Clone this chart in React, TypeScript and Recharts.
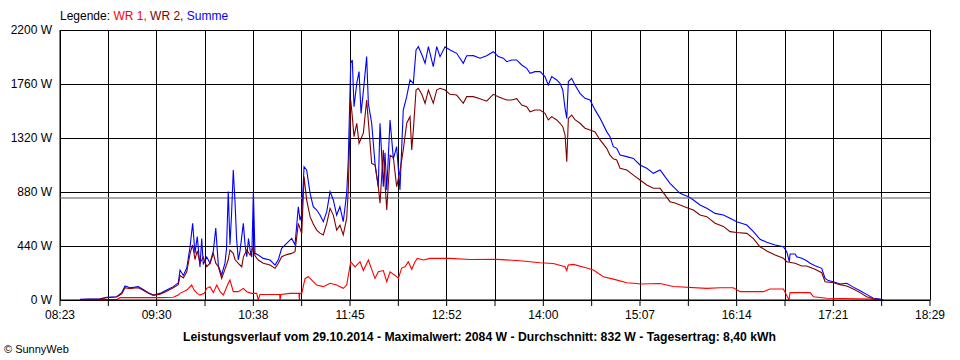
import { LineChart, Line, XAxis, YAxis, CartesianGrid, ReferenceLine } from "recharts";

// time = minutes after midnight, values in W

const tickLabels = ["08:23", "09:30", "10:38", "11:45", "12:52", "14:00", "15:07", "16:14", "17:21", "18:29"];
const wattTicks = [0, 440, 880, 1320, 1760, 2200];
const average = 832;

const sumTimes = [
  516.9, 530.9, 535.5, 542.5, 546.0, 548.3, 551.8, 555.2, 557.5, 561.0, 564.5, 568.0, 572.7, 577.3, 581.9,
  585.4, 586.6, 588.9, 591.3, 593.6, 595.4, 597.0, 598.6, 600.5, 601.7, 602.8, 605.2, 607.5, 609.8, 611.5,
  613.3, 615.6, 617.9, 619.0, 620.2, 621.4, 622.5, 623.7, 624.9, 626.0, 627.2, 628.4, 629.6, 630.7, 631.9,
  633.1, 634.3, 635.4, 636.6, 637.7, 638.8, 641.1, 644.6, 649.3, 652.8, 655.1, 657.4, 660.9, 664.4, 666.7,
  669.0, 670.2, 671.4, 673.0, 674.8, 677.2, 679.4, 681.8, 684.1, 686.4, 688.8, 691.1, 693.4, 695.7, 698.0,
  700.3, 702.7, 703.8, 705.5, 706.6, 707.8, 709.7, 711.3, 712.7, 714.3, 716.6, 717.8, 720.1, 722.4, 724.7,
  725.9, 728.2, 729.4, 730.6, 732.9, 735.2, 737.5, 739.8, 742.1, 744.5, 746.8, 749.1, 751.0, 752.6, 755.0,
  757.3, 759.6, 763.0, 765.4, 767.7, 771.2, 774.7, 779.3, 783.9, 786.3, 790.9, 795.6, 800.2, 804.8, 808.3,
  811.8, 814.2, 817.6, 821.1, 824.6, 828.1, 830.4, 833.9, 837.4, 840.8, 843.1, 845.5, 849.0, 851.3, 853.2,
  854.8, 856.0, 857.1, 859.4, 861.7, 865.2, 868.7, 872.2, 875.7, 879.2, 883.8, 886.1, 888.4, 890.8, 893.1,
  897.8, 902.4, 907.0, 911.7, 916.3, 921.0, 924.4, 927.9, 931.4, 934.9, 940.7, 944.2, 948.8, 953.5, 959.3,
  965.1, 969.7, 974.4, 981.4, 986.0, 990.6, 995.3, 1001.1, 1006.9, 1009.2, 1011.0, 1011.5, 1015.0, 1016.2, 1019.7,
  1023.1, 1025.5, 1028.9, 1033.6, 1035.9, 1038.2, 1041.7, 1046.3, 1051.0, 1055.6, 1060.3, 1064.9, 1069.5, 1074.2, 1076.5,
];
const sumWatts = [
  5, 10, 22, 27, 60, 114, 100, 105, 109, 86, 60, 41, 54, 81, 109,
  140, 244, 200, 260, 434, 625, 380, 516, 270, 500, 290, 350, 300, 400, 586,
  280, 204, 300, 420, 883, 450, 700, 1059, 800, 500, 326, 400, 516, 624, 450,
  353, 500, 407, 350, 883, 380, 367, 339, 326, 285, 330, 421, 462, 502, 450,
  760, 650, 700, 1086, 1060, 869, 760, 733, 692, 638, 720, 883, 815, 692, 760,
  638, 869, 1141, 1929, 1956, 1575, 1765, 1861, 1521, 1700, 1983, 1600, 1440, 1114, 923,
  1440, 923, 1200, 896, 1467, 1150, 1249, 896, 1548, 1657, 1793, 1765, 2037, 2064, 2000,
  1929, 2064, 1901, 2064, 1983, 2064, 2037, 2010, 1929, 1990, 1991, 1970, 1991, 2023, 1983,
  1970, 1942, 1956, 1956, 1915, 1888, 1847, 1861, 1861, 1820, 1752, 1820, 1793, 1765, 1711,
  1562, 1480, 1780, 1806, 1752, 1684, 1643, 1630, 1549, 1480, 1372, 1331, 1249, 1236, 1181,
  1168, 1154, 1100, 1073, 1032, 1060, 1005, 951, 910, 869, 842, 815, 774, 747, 706,
  693, 666, 638, 611, 557, 495, 470, 448, 434, 394, 312, 375, 375, 353, 340,
  320, 300, 280, 258, 176, 158, 149, 130, 136, 105, 76, 46, 14, 8, 0,
];

const wr2Times = [
  516.9, 530.9, 535.5, 542.5, 546.0, 548.3, 551.8, 555.2, 557.5, 561.0, 564.5, 568.0, 572.7, 577.3, 581.9,
  585.4, 586.6, 588.9, 591.3, 593.6, 595.4, 597.0, 598.6, 600.5, 602.8, 605.2, 607.5, 609.8, 611.5, 613.3,
  615.6, 617.9, 620.2, 621.4, 623.7, 624.9, 627.2, 629.6, 630.7, 633.1, 635.4, 637.7, 638.8, 641.1, 644.6,
  649.3, 652.8, 655.1, 657.4, 660.9, 664.4, 666.7, 669.0, 671.4, 673.0, 674.8, 677.2, 679.4, 681.8, 684.1,
  686.4, 688.8, 691.1, 693.4, 695.7, 698.0, 700.3, 702.7, 703.8, 705.5, 706.6, 707.8, 709.7, 711.3, 714.3,
  716.6, 720.1, 722.4, 724.7, 725.9, 728.2, 729.4, 730.6, 732.9, 735.2, 737.5, 739.8, 742.1, 744.5, 746.8,
  748.0, 749.1, 751.0, 752.6, 755.0, 757.3, 759.6, 763.0, 765.4, 767.7, 771.2, 774.7, 779.3, 783.9, 786.3,
  790.9, 795.6, 800.2, 804.8, 808.3, 811.8, 814.2, 817.6, 821.1, 824.6, 828.1, 830.4, 833.9, 837.4, 840.8,
  843.1, 845.5, 849.0, 851.3, 853.2, 854.8, 856.0, 857.1, 859.4, 861.7, 865.2, 868.7, 872.2, 875.7, 879.2,
  883.8, 886.1, 888.4, 890.8, 893.1, 897.8, 902.4, 907.0, 911.7, 916.3, 921.0, 924.4, 927.9, 931.4, 934.9,
  940.7, 944.2, 948.8, 953.5, 959.3, 965.1, 969.7, 974.4, 981.4, 986.0, 990.6, 995.3, 1001.1, 1006.9, 1009.2,
  1015.0, 1019.7, 1023.1, 1028.9, 1033.6, 1035.9, 1041.7, 1046.3, 1051.0, 1055.6, 1060.3, 1064.9, 1069.5, 1074.2,
];
const wr2Watts = [
  3, 8, 18, 24, 50, 100, 92, 98, 100, 80, 55, 38, 48, 72, 100,
  125, 200, 180, 230, 380, 448, 330, 400, 300, 350, 271, 300, 380, 300, 271,
  176, 250, 330, 407, 380, 330, 299, 271, 350, 407, 367, 434, 360, 326, 299,
  285, 258, 300, 353, 370, 380, 394, 624, 540, 1005, 815, 679, 620, 570, 545,
  530, 624, 747, 692, 570, 610, 530, 665, 896, 1630, 1494, 1331, 1440, 1277, 1360,
  1630, 1114, 1100, 923, 788, 1222, 950, 733, 1180, 1160, 923, 1050, 1222, 1440, 1494,
  1222, 1380, 1711, 1725, 1676, 1603, 1711, 1603, 1711, 1725, 1711, 1676, 1670, 1603, 1657,
  1657, 1640, 1620, 1676, 1657, 1640, 1630, 1630, 1640, 1589, 1575, 1534, 1548, 1548, 1521,
  1467, 1494, 1467, 1440, 1412, 1344, 1127, 1480, 1507, 1470, 1440, 1400, 1385, 1370, 1304,
  1236, 1180, 1150, 1141, 1073, 1059, 1018, 978, 937, 910, 910, 856, 801, 790, 774,
  747, 733, 693, 679, 625, 600, 557, 550, 543, 500, 434, 400, 367, 340, 312,
  300, 277, 277, 250, 222, 149, 140, 125, 114, 90, 60, 27, 10, 3,
];

const wr1Times = [
  516.9, 542.5, 544.8, 572.7, 581.9, 585.4, 586.6, 591.3, 594.7, 596.5, 598.6, 600.5, 603.5, 605.2, 607.5,
  609.8, 612.2, 614.5, 616.8, 620.2, 621.4, 623.7, 627.2, 630.7, 633.1, 636.5, 640.0, 641.1, 642.3, 656.0,
  656.3, 656.8, 663.3, 669.5, 669.7, 670.0, 671.4, 673.7, 676.0, 679.4, 681.8, 686.4, 691.1, 695.7, 700.3,
  702.7, 704.5, 705.5, 708.5, 712.0, 714.3, 717.8, 720.1, 722.4, 724.7, 728.2, 730.6, 732.9, 736.4, 738.7,
  741.0, 743.3, 745.6, 748.0, 750.3, 751.9, 756.1, 760.7, 767.7, 774.7, 788.6, 807.2, 823.4, 837.4, 846.6,
  854.8, 856.0, 857.0, 860.6, 869.9, 874.5, 881.5, 888.4, 897.8, 904.7, 907.0, 921.0, 930.2, 953.5, 962.8,
  972.0, 976.7, 992.9, 997.6, 1006.9, 1010.8, 1011.5, 1025.5, 1027.8, 1037.1, 1069.5, 1074.2,
];
const wr1Watts = [
  2, 3, 19, 19, 22, 40, 54, 81, 122, 80, 54, 40, 54, 95, 109,
  60, 122, 68, 41, 136, 163, 68, 68, 95, 68, 54, 54, 0, 45, 45,
  0, 45, 54, 54, 0, 54, 54, 176, 190, 150, 122, 109, 136, 122, 95,
  122, 244, 312, 270, 312, 240, 326, 250, 176, 230, 240, 149, 230, 200, 176,
  260, 270, 312, 250, 312, 339, 326, 339, 339, 339, 330, 331, 320, 304, 298,
  271, 240, 285, 290, 260, 244, 190, 170, 141, 135, 130, 135, 110, 95, 100,
  100, 68, 68, 90, 90, 0, 60, 60, 27, 14, 8, 0,
];

const toMinutes = (s: string) => {
  const [h, m] = s.split(":").map(Number);
  return h * 60 + m;
};
const start = toMinutes(tickLabels[0]);
const end = toMinutes(tickLabels[tickLabels.length - 1]);
const step = (end - start) / ((tickLabels.length - 1) * 2);
const gridTicks = Array.from({ length: (tickLabels.length - 1) * 2 + 1 }, (_, i) => start + i * step);

const zip = (times: number[], watts: number[]) => times.map((t, i) => ({ t, v: watts[i] }));
const sumData = zip(sumTimes, sumWatts);
const wr2Data = zip(wr2Times, wr2Watts);
const wr1Data = zip(wr1Times, wr1Watts);

const font = "'Liberation Sans', Arial, sans-serif";

export default function App() {
  return (
    <div style={{ position: "relative", width: 960, height: 360, background: "#fff", fontFamily: font }}>
      <style>{"body{margin:0}"}</style>
      <LineChart width={960} height={360} margin={{ top: 30, right: 30, bottom: 30, left: 0 }}>
        <CartesianGrid stroke="#000" strokeOpacity={1} shapeRendering="crispEdges" />
        <XAxis
          dataKey="t"
          type="number"
          domain={[start, end]}
          ticks={gridTicks}
          interval={0}
          height={30}
          tickSize={6}
          tickMargin={4}
          stroke="#000"
          tick={{ fill: "#000", fontSize: 12, fontFamily: font }}
          tickFormatter={(v: number) => {
            const i = gridTicks.indexOf(v);
            return i % 2 === 0 ? tickLabels[i / 2] : "";
          }}
        />
        <YAxis
          type="number"
          domain={[0, 2200]}
          ticks={wattTicks}
          width={60}
          tickLine={false}
          stroke="#000"
          tick={{ fill: "#000", fontSize: 12, fontFamily: font }}
          tickFormatter={(v: number) => `${v} W`}
        />
        <ReferenceLine y={average} stroke="#8c8c8c" strokeWidth={1.5} />
        <Line data={sumData} dataKey="v" type="linear" stroke="#0000ff" strokeWidth={1.1} dot={false} isAnimationActive={false} />
        <Line data={wr2Data} dataKey="v" type="linear" stroke="#800000" strokeWidth={1.1} dot={false} isAnimationActive={false} />
        <Line data={wr1Data} dataKey="v" type="linear" stroke="#ff0000" strokeWidth={1.1} dot={false} isAnimationActive={false} />
      </LineChart>
      <svg width={960} height={360} style={{ position: "absolute", left: 0, top: 0, pointerEvents: "none" }}>
        <text x={60} y={20} fontSize={12} fontFamily={font}>
          <tspan fill="#000">Legende: </tspan>
          <tspan fill="#ff0000">WR 1, </tspan>
          <tspan fill="#800000">WR 2, </tspan>
          <tspan fill="#0000ff">Summe</tspan>
        </text>
        <text x={183} y={341} fontSize={12} fontWeight="bold" fontFamily={font} textLength={593} lengthAdjust="spacingAndGlyphs">
          Leistungsverlauf vom 29.10.2014 - Maximalwert: 2084 W - Durchschnitt: 832 W - Tagesertrag: 8,40 kWh
        </text>
        <text x={4} y={353} fontSize={11} fontFamily={font}>
          © SunnyWeb
        </text>
      </svg>
    </div>
  );
}
